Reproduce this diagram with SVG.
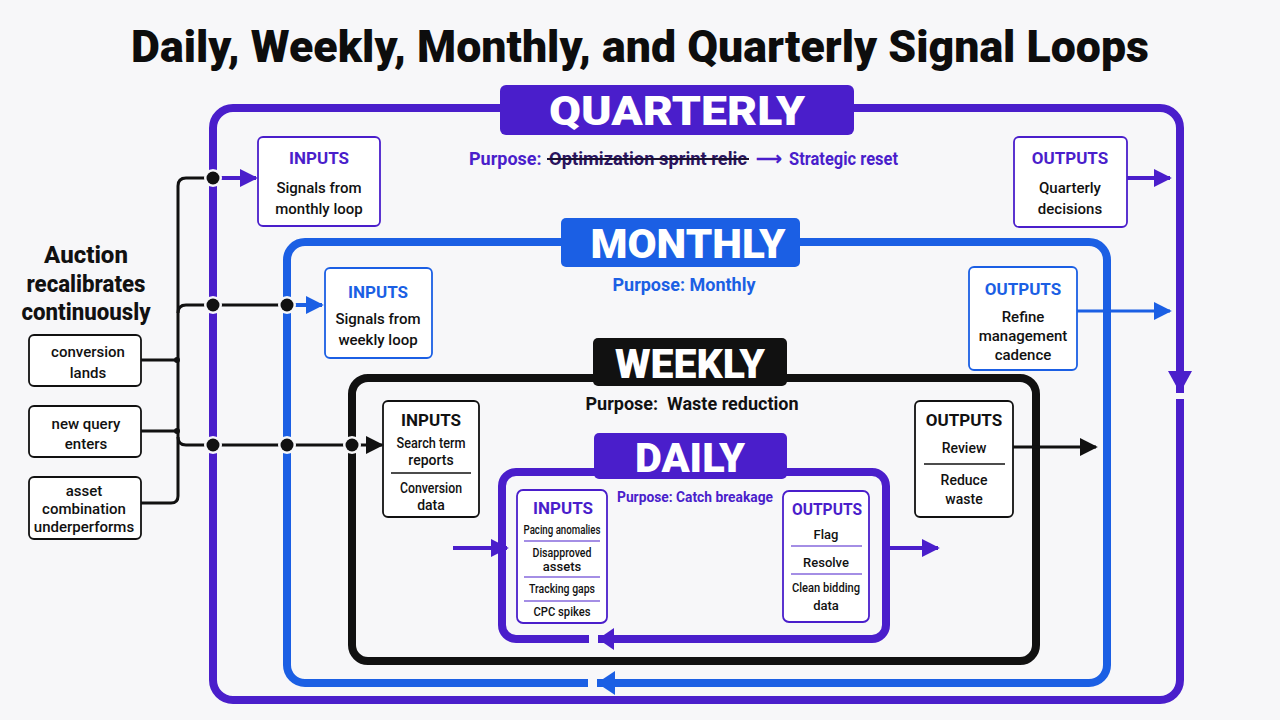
<svg xmlns="http://www.w3.org/2000/svg" width="1280" height="720" viewBox="0 0 1280 720">
<style>
.f{font-family:Roboto,"Liberation Sans",sans-serif}
.title{font-family:Roboto,"Liberation Sans",sans-serif;font-weight:900;font-size:45px;fill:#0d0d0d}
.lab{font-family:Roboto,"Liberation Sans",sans-serif;font-weight:900;font-size:40px;fill:#fff}
.hds{font-family:Roboto,"Liberation Sans",sans-serif;font-weight:700;font-size:17px}
.bd{font-family:Roboto,"Liberation Sans",sans-serif;font-weight:500;font-size:15px;fill:#111}
.sm{font-family:Roboto,"Liberation Sans",sans-serif;font-weight:500;font-size:13px;fill:#111}
.sm14{font-family:Roboto,"Liberation Sans",sans-serif;font-weight:500;font-size:14px;fill:#111}
.pp{font-family:Roboto,"Liberation Sans",sans-serif;font-weight:700;font-size:18px}
.pp15{font-family:Roboto,"Liberation Sans",sans-serif;font-weight:700;font-size:15px}
.box{fill:#fff;stroke-width:1.8}
.pu{fill:#4a1ecb}
.bl{fill:#1b5fe4}
.bk{fill:#111}
.spu{stroke:#4a1ecb}
.sbl{stroke:#1b5fe4}
.sbk{stroke:#111}
.loop{fill:none;stroke-width:8}
</style>
<defs>
<marker id="aPu" viewBox="0 0 10 10" refX="9" refY="5" markerWidth="18" markerHeight="18" markerUnits="userSpaceOnUse" orient="auto"><path d="M0,0 L10,5 L0,10 z" fill="#4a1ecb"/></marker>
<marker id="aBl" viewBox="0 0 10 10" refX="9" refY="5" markerWidth="18" markerHeight="18" markerUnits="userSpaceOnUse" orient="auto"><path d="M0,0 L10,5 L0,10 z" fill="#1b5fe4"/></marker>
<marker id="aBk" viewBox="0 0 10 10" refX="9" refY="5" markerWidth="18" markerHeight="18" markerUnits="userSpaceOnUse" orient="auto"><path d="M0,0 L10,5 L0,10 z" fill="#111"/></marker>
</defs>
<rect width="1280" height="720" fill="#f7f7f9"/>
<text class="title" x="640" y="62" text-anchor="middle" textLength="1018" lengthAdjust="spacingAndGlyphs">Daily, Weekly, Monthly, and Quarterly Signal Loops</text>

<g id="quarterly">
<rect class="loop spu" x="213" y="108" width="967" height="592" rx="20"/>
<rect x="500" y="85" width="354" height="50" rx="6" class="pu"/>
<text class="lab" x="677" y="125" text-anchor="middle" textLength="256" lengthAdjust="spacingAndGlyphs">QUARTERLY</text>
<text class="pp pu" x="469" y="165">Purpose:</text>
<text class="pp" x="549" y="165" fill="#2a1460" textLength="198" lengthAdjust="spacingAndGlyphs">Optimization sprint relic</text>
<line x1="547" y1="159" x2="749" y2="159" stroke="#1a1030" stroke-width="2"/>
<text class="pp pu" x="756" y="165">⟶</text>
<text class="pp pu" x="789" y="165" textLength="109" lengthAdjust="spacingAndGlyphs">Strategic reset</text>
</g>
<g id="q-inputs">
<rect class="box spu" x="258" y="137" width="122" height="89" rx="5"/>
<text class="hds pu" x="319" y="164" text-anchor="middle">INPUTS</text>
<text class="bd" x="319" y="193" text-anchor="middle">Signals from</text>
<text class="bd" x="319" y="214" text-anchor="middle">monthly loop</text>
</g>
<g id="q-outputs">
<rect class="box spu" x="1014" y="137" width="113" height="90" rx="5"/>
<text class="hds pu" x="1070" y="164" text-anchor="middle">OUTPUTS</text>
<text class="bd" x="1070" y="193" text-anchor="middle">Quarterly</text>
<text class="bd" x="1070" y="214" text-anchor="middle">decisions</text>
</g>

<g id="monthly">
<rect class="loop sbl" x="287" y="242" width="820" height="441" rx="18"/>
<rect x="561" y="218" width="239" height="49" rx="5" class="bl"/>
<text class="lab" x="688" y="258" text-anchor="middle" textLength="195" lengthAdjust="spacingAndGlyphs">MONTHLY</text>
<text class="pp bl" x="684" y="291" text-anchor="middle">Purpose: Monthly</text>
</g>
<g id="m-inputs">
<rect class="box sbl" x="325" y="268" width="107" height="90" rx="5"/>
<text class="hds bl" x="378" y="298" text-anchor="middle">INPUTS</text>
<text class="bd" x="378" y="324" text-anchor="middle">Signals from</text>
<text class="bd" x="378" y="345" text-anchor="middle">weekly loop</text>
</g>
<g id="m-outputs">
<rect class="box sbl" x="969" y="267" width="108" height="103" rx="5"/>
<text class="hds bl" x="1023" y="295" text-anchor="middle">OUTPUTS</text>
<text class="bd" x="1023" y="322" text-anchor="middle">Refine</text>
<text class="bd" x="1023" y="341" text-anchor="middle">management</text>
<text class="bd" x="1023" y="360" text-anchor="middle">cadence</text>
</g>

<g id="weekly">
<rect class="loop sbk" x="352" y="378" width="684" height="283" rx="16"/>
<rect x="593" y="338" width="194" height="48" rx="5" class="bk"/>
<text class="lab" x="690" y="378" text-anchor="middle" textLength="150" lengthAdjust="spacingAndGlyphs">WEEKLY</text>
<text class="pp bk" x="692" y="410" text-anchor="middle" xml:space="preserve">Purpose:  Waste reduction</text>
</g>
<g id="w-inputs">
<rect class="box sbk" x="383" y="401" width="96" height="116" rx="5"/>
<text class="hds bk" x="431" y="426" text-anchor="middle">INPUTS</text>
<text class="sm14" x="431" y="448" text-anchor="middle" textLength="69" lengthAdjust="spacingAndGlyphs">Search term</text>
<text class="sm14" x="431" y="465" text-anchor="middle">reports</text>
<line x1="391" y1="473" x2="471" y2="473" stroke="#111" stroke-width="1.5"/>
<text class="sm14" x="431" y="493" text-anchor="middle" textLength="62" lengthAdjust="spacingAndGlyphs">Conversion</text>
<text class="sm14" x="431" y="510" text-anchor="middle">data</text>
</g>
<g id="w-outputs">
<rect class="box sbk" x="915" y="401" width="98" height="116" rx="5"/>
<text class="hds bk" x="964" y="426" text-anchor="middle">OUTPUTS</text>
<text class="sm14" x="964" y="453" text-anchor="middle">Review</text>
<line x1="924" y1="464" x2="1005" y2="464" stroke="#111" stroke-width="1.5"/>
<text class="sm14" x="964" y="485" text-anchor="middle">Reduce</text>
<text class="sm14" x="964" y="504" text-anchor="middle">waste</text>
</g>

<g id="daily">
<rect class="loop spu" x="502" y="472" width="384" height="167" rx="14" stroke-width="7"/>
<rect x="594" y="433" width="193" height="46" rx="5" class="pu"/>
<text class="lab" x="690" y="472" text-anchor="middle" textLength="110" lengthAdjust="spacingAndGlyphs">DAILY</text>
<text class="pp15 pu" x="617" y="502" textLength="156" lengthAdjust="spacingAndGlyphs">Purpose: Catch breakage</text>
</g>
<g id="d-inputs">
<rect class="box spu" x="517" y="490" width="90" height="133" rx="6" stroke-width="1.5"/>
<text class="hds pu" x="563" y="514" text-anchor="middle">INPUTS</text>
<text class="sm" x="562" y="534" text-anchor="middle" textLength="77" lengthAdjust="spacingAndGlyphs">Pacing anomalies</text>
<line x1="524" y1="541" x2="600" y2="541" stroke="#4a1ecb" stroke-width="1.2"/>
<text class="sm" x="562" y="557" text-anchor="middle" textLength="59" lengthAdjust="spacingAndGlyphs">Disapproved</text>
<text class="sm" x="562" y="571" text-anchor="middle">assets</text>
<line x1="524" y1="577" x2="600" y2="577" stroke="#4a1ecb" stroke-width="1.2"/>
<text class="sm" x="562" y="593" text-anchor="middle" textLength="66" lengthAdjust="spacingAndGlyphs">Tracking gaps</text>
<line x1="524" y1="601" x2="600" y2="601" stroke="#4a1ecb" stroke-width="1.2"/>
<text class="sm" x="562" y="616" text-anchor="middle" textLength="57" lengthAdjust="spacingAndGlyphs">CPC spikes</text>
</g>
<g id="d-outputs">
<rect class="box spu" x="783" y="491" width="86" height="131" rx="6" stroke-width="1.5"/>
<text class="hds pu" x="827" y="515" text-anchor="middle" textLength="70" lengthAdjust="spacingAndGlyphs">OUTPUTS</text>
<text class="sm" x="826" y="539" text-anchor="middle">Flag</text>
<line x1="791" y1="546" x2="862" y2="546" stroke="#4a1ecb" stroke-width="1.2"/>
<text class="sm" x="826" y="567" text-anchor="middle">Resolve</text>
<line x1="791" y1="574" x2="862" y2="574" stroke="#4a1ecb" stroke-width="1.2"/>
<text class="sm" x="826" y="592" text-anchor="middle" textLength="68" lengthAdjust="spacingAndGlyphs">Clean bidding</text>
<text class="sm" x="826" y="610" text-anchor="middle">data</text>
</g>

<g id="auction">
<text class="f" font-weight="800" font-size="24" fill="#111" text-anchor="middle"><tspan x="86" y="263">Auction</tspan><tspan x="86" y="292" textLength="119" lengthAdjust="spacingAndGlyphs">recalibrates</tspan><tspan x="86" y="320" textLength="129" lengthAdjust="spacingAndGlyphs">continuously</tspan></text>
</g>
<g id="ev-conversion">
<rect class="box sbk" x="29" y="335" width="112" height="51" rx="5" stroke-width="2"/>
<text class="bd" x="88" y="357" text-anchor="middle">conversion</text>
<text class="bd" x="88" y="378" text-anchor="middle">lands</text>
</g>
<g id="ev-query">
<rect class="box sbk" x="29" y="406" width="112" height="51" rx="5" stroke-width="2"/>
<text class="bd" x="86" y="429" text-anchor="middle">new query</text>
<text class="bd" x="86" y="449" text-anchor="middle">enters</text>
</g>
<g id="ev-asset">
<rect class="box sbk" x="29" y="477" width="112" height="62" rx="5" stroke-width="2"/>
<text class="bd" x="84" y="496" text-anchor="middle">asset</text>
<text class="bd" x="84" y="514" text-anchor="middle">combination</text>
<text class="bd" x="84" y="532" text-anchor="middle">underperforms</text>
</g>

<g id="connectors">
<path d="M141,360 H178 M141,431 H178 M141,503 H171 Q178,503 178,496 V186 Q178,178 186,178 H213" fill="none" stroke="#111" stroke-width="3"/>
<path d="M178,313 Q178,305 186,305 H287" fill="none" stroke="#111" stroke-width="3"/>
<path d="M178,437 Q178,445 186,445 H352" fill="none" stroke="#111" stroke-width="3"/>
<circle cx="177" cy="360" r="3" fill="#111"/>
<circle cx="177" cy="431" r="3" fill="#111"/>
<line x1="213" y1="178" x2="256" y2="178" stroke="#4a1ecb" stroke-width="4" marker-end="url(#aPu)"/>
<line x1="287" y1="305" x2="322" y2="305" stroke="#1b5fe4" stroke-width="4" marker-end="url(#aBl)"/>
<line x1="352" y1="445" x2="382" y2="445" stroke="#111" stroke-width="3" marker-end="url(#aBk)"/>
<g fill="#f7f7f9">
<circle cx="213" cy="178" r="9"/><circle cx="213" cy="305" r="9"/><circle cx="287" cy="305" r="9"/>
<circle cx="213" cy="445" r="9"/><circle cx="287" cy="445" r="9"/><circle cx="352" cy="445" r="9"/>
</g>
<g fill="#111">
<circle cx="213" cy="178" r="6.5"/><circle cx="213" cy="305" r="6.5"/><circle cx="287" cy="305" r="6.5"/>
<circle cx="213" cy="445" r="6.5"/><circle cx="287" cy="445" r="6.5"/><circle cx="352" cy="445" r="6.5"/>
</g>
<line x1="1127" y1="178" x2="1170" y2="178" stroke="#4a1ecb" stroke-width="4" marker-end="url(#aPu)"/>
<line x1="1077" y1="311" x2="1170" y2="311" stroke="#1b5fe4" stroke-width="3" marker-end="url(#aBl)"/>
<line x1="1013" y1="447" x2="1096" y2="447" stroke="#111" stroke-width="3" marker-end="url(#aBk)"/>
<line x1="453" y1="548" x2="507" y2="548" stroke="#4a1ecb" stroke-width="4" marker-end="url(#aPu)"/>
<line x1="886" y1="548" x2="938" y2="548" stroke="#4a1ecb" stroke-width="4" marker-end="url(#aPu)"/>
<rect x="1174" y="393" width="12" height="6" fill="#f7f7f9"/>
<polygon points="1168,371 1192,371 1180,393" fill="#4a1ecb"/>
<rect x="588" y="677" width="9" height="12" fill="#f7f7f9"/>
<polygon points="597,683 615,671 615,695" fill="#1b5fe4"/>
<rect x="589" y="634" width="9" height="11" fill="#f7f7f9"/>
<polygon points="598,639 614,628 614,650" fill="#4a1ecb"/>
</g>
</svg>
